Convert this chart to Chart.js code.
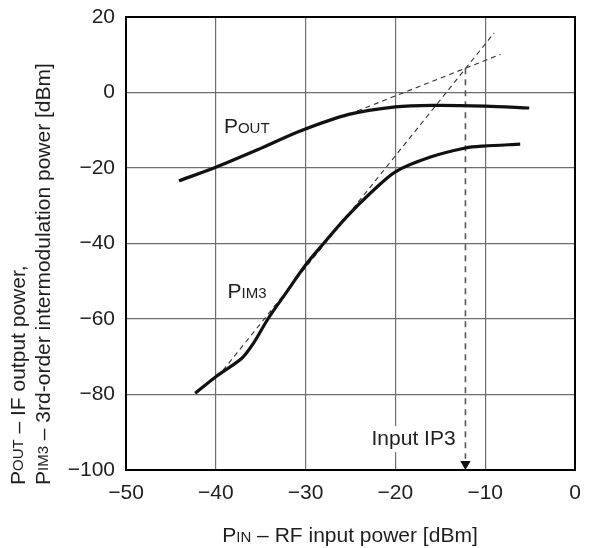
<!DOCTYPE html>
<html>
<head>
<meta charset="utf-8">
<script src="https://cdn.jsdelivr.net/npm/chart.js@4"></script>
<style>
  html, body { margin: 0; padding: 0; background: #fff; }
  #wrap { width: 590px; height: 548px; position: relative; }
</style>
</head>
<body>
<div id="wrap"><canvas id="grafica"></canvas></div>
<script>
// Datos
const xTicks = [-50, -40, -30, -20, -10, 0];
const yTicks = [-100, -80, -60, -40, -20, 0, 20];

const poutX = [-44.1, -40, -35, -30.6, -25.2, -20, -15.8, -10, -5.1];
const poutY = [-23.4, -19.8, -14.8, -10.2, -5.8, -3.8, -3.4, -3.6, -4.1];

const pim3X = [-42.3, -40, -37.1, -35.8, -34.2, -32.1, -30, -28, -25.4, -22.8, -20, -16.1, -12.2, -10.2, -6.1];
const pim3Y = [-79.7, -75.3, -70.4, -66.4, -60, -52.8, -45.7, -40, -32.9, -26.7, -21, -17.1, -14.7, -14.2, -13.7];

// Extrapolaciones (líneas discontinuas)
const poutExtX = [-25.2, -8.3];
const poutExtY = [-5.8, 10.1];
const pim3ExtX = [-39.2, -9];
const pim3ExtY = [-73.6, 15.8];

// Punto IP3 de entrada
const ip3X = -12.2;
const ip3Y = 6.4;

const FONT = '"Liberation Sans", Arial, Helvetica, sans-serif';
const TEXT = '#1e1e1e';

function pts(xs, ys) {
  return xs.map((x, i) => ({ x: x, y: ys[i] }));
}

// Texto con "versalitas": [texto, tamaño]
function partsWidth(ctx, parts) {
  let w = 0;
  parts.forEach(p => {
    ctx.font = p[1] + 'px ' + FONT;
    w += ctx.measureText(p[0]).width;
  });
  return w;
}
function drawParts(ctx, parts, x, y) {
  parts.forEach(p => {
    ctx.font = p[1] + 'px ' + FONT;
    ctx.fillText(p[0], x, y);
    x += ctx.measureText(p[0]).width;
  });
}

const textos = {
  id: 'textos',
  afterDraw(chart) {
    const ctx = chart.ctx;
    const a = chart.chartArea;
    const xs = chart.scales.x;
    const ys = chart.scales.y;
    ctx.save();

    // marco
    ctx.strokeStyle = '#000';
    ctx.lineWidth = 2;
    ctx.strokeRect(a.left, a.top, a.right - a.left, a.bottom - a.top);

    ctx.fillStyle = TEXT;
    ctx.textBaseline = 'alphabetic';
    ctx.textAlign = 'left';

    // etiquetas de curvas
    drawParts(ctx, [['P', 21], ['OUT', 15]], xs.getPixelForValue(-39.1), ys.getPixelForValue(-10.6));
    drawParts(ctx, [['P', 21], ['IM3', 15]], xs.getPixelForValue(-38.7), ys.getPixelForValue(-54.4));

    // Input IP3
    ctx.font = '21px ' + FONT;
    const lbl = 'Input IP3';
    const lw = ctx.measureText(lbl).width;
    const rx = xs.getPixelForValue(-13.3);
    const by = ys.getPixelForValue(-93.4);
    ctx.fillStyle = '#fff';
    ctx.fillRect(rx - lw - 3, by - 19, lw + 5, 26);
    ctx.fillStyle = TEXT;
    ctx.fillText(lbl, rx - lw, by);

    // título eje x
    const xParts = [['P', 21], ['IN', 15], [' \u2013 RF input power [dBm]', 21]];
    const xw = partsWidth(ctx, xParts);
    drawParts(ctx, xParts, 350 - xw / 2, 542);

    // título eje y (dos líneas)
    ctx.translate(0, 485);
    ctx.rotate(-Math.PI / 2);
    ctx.textBaseline = 'middle';
    drawParts(ctx, [['P', 21], ['OUT', 15], [' \u2013 IF output power,', 21]], 0, 19);
    drawParts(ctx, [['P', 21], ['IM3', 15], [' \u2013 3rd-order intermodulation power [dBm]', 21]], 0, 44);
    ctx.restore();
  }
};

const ctx = document.getElementById('grafica').getContext('2d');
const myChart = new Chart(ctx, {
  type: 'scatter',
  data: {
    datasets: [
      {
        label: 'POUT',
        data: pts(poutX, poutY),
        showLine: true,
        borderColor: '#111',
        borderWidth: 3.2,
        pointRadius: 0,
        tension: 0.3,
        borderCapStyle: 'butt'
      },
      {
        label: 'PIM3',
        data: pts(pim3X, pim3Y),
        showLine: true,
        borderColor: '#111',
        borderWidth: 3.2,
        pointRadius: 0,
        tension: 0.3
      },
      {
        label: 'POUT ext',
        data: pts(poutExtX, poutExtY),
        showLine: true,
        borderColor: '#333',
        borderWidth: 1.1,
        borderDash: [5, 4],
        pointRadius: 0,
        tension: 0
      },
      {
        label: 'PIM3 ext',
        data: pts(pim3ExtX, pim3ExtY),
        showLine: true,
        borderColor: '#333',
        borderWidth: 1.1,
        borderDash: [5, 4],
        pointRadius: 0,
        tension: 0
      },
      {
        label: 'IP3',
        data: [{ x: ip3X, y: ip3Y }, { x: ip3X, y: -97 }],
        showLine: true,
        borderColor: '#555',
        borderWidth: 1.6,
        borderDash: [6, 5],
        pointRadius: 0,
        tension: 0
      },
      {
        label: 'flecha',
        data: [{ x: ip3X, y: -98.4 }],
        showLine: false,
        pointStyle: 'triangle',
        rotation: 180,
        pointRadius: 6,
        backgroundColor: '#111',
        borderColor: '#111',
        borderWidth: 0
      }
    ]
  },
  options: {
    responsive: true,
    maintainAspectRatio: false,
    animation: false,
    events: [],
    layout: { padding: { left: 0, right: 15, top: 17, bottom: 0 } },
    plugins: {
      legend: { display: false },
      tooltip: { enabled: false }
    },
    scales: {
      x: {
        type: 'linear',
        min: -50,
        max: 0,
        afterFit: s => { s.height = 78; s.paddingLeft = 0; s.paddingRight = 0; },
        afterBuildTicks: s => { s.ticks = xTicks.map(v => ({ value: v })); },
        border: { display: false },
        grid: { color: '#6e6e6e', lineWidth: 1.2, drawTicks: false },
        ticks: {
          padding: 11,
          color: TEXT,
          font: { family: FONT, size: 21 },
          callback: v => String(v).replace('-', '\u2212')
        }
      },
      y: {
        type: 'linear',
        min: -100,
        max: 20,
        afterFit: s => { s.width = 126; s.paddingTop = 0; s.paddingBottom = 0; },
        afterBuildTicks: s => { s.ticks = yTicks.map(v => ({ value: v })); },
        border: { display: false },
        grid: { color: '#6e6e6e', lineWidth: 1.2, drawTicks: false },
        ticks: {
          padding: 11,
          color: TEXT,
          font: { family: FONT, size: 21 },
          callback: v => String(v).replace('-', '\u2212')
        }
      }
    }
  },
  plugins: [textos]
});
</script>
</body>
</html>
